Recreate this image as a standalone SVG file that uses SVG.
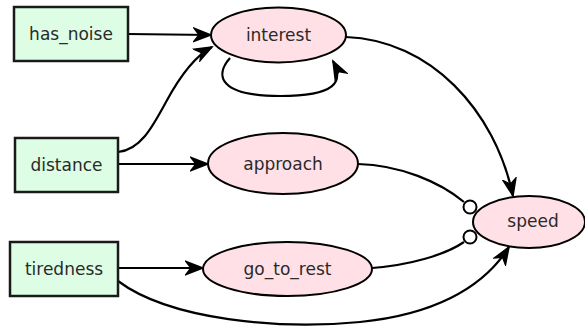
<svg xmlns="http://www.w3.org/2000/svg" width="585" height="328" viewBox="0 0 585 328">
<defs>
<style>
.box{fill:#ddfde5;stroke:#1a1a1a;stroke-width:2.5}
.ell{fill:#ffe0e6;stroke:#000;stroke-width:2}
.lbl{font-family:"DejaVu Sans",sans-serif;font-size:17px;fill:#2a2a2a;text-anchor:middle;dominant-baseline:central}
.edge{fill:none;stroke:#000;stroke-width:2.2}
.dot{fill:#fff;stroke:#000;stroke-width:2}
</style>
<marker id="arr" markerUnits="userSpaceOnUse" markerWidth="20" markerHeight="16" refX="18" refY="8" orient="auto" viewBox="0 0 20 16">
<path d="M1,1.5 L18,8 L1,14.5 L6,8 z" fill="#000" stroke="#000" stroke-width="1.5" stroke-linejoin="miter"/>
</marker>
</defs>
<g id="connectors">
<path class="edge" d="M128,34 L211,35" marker-end="url(#arr)"/>
<path class="edge" d="M118,152 C140,150 152,128 166,102 C180,76 195,56 212,47" marker-end="url(#arr)"/>
<path class="edge" d="M230,58 C214,76 220,96 280,96 C336,96 344,82 333,61" marker-end="url(#arr)"/>
<path class="edge" d="M118,164 L208,164" marker-end="url(#arr)"/>
<path class="edge" d="M118,268 L203,268" marker-end="url(#arr)"/>
<path class="edge" d="M346,37 C430,40 495,110 513,196" marker-end="url(#arr)"/>
<path class="edge" d="M118,281 C170,320 280,330 360,322 C430,315 482,290 509,247" marker-end="url(#arr)"/>
<path class="edge" d="M358,164 C400,165 440,182 464,202"/>
<path class="edge" d="M372,268 C410,265 445,255 464,242"/>
<circle class="dot" cx="470" cy="207" r="6.5"/>
<circle class="dot" cx="470" cy="237" r="6.5"/>
</g>
<g id="has_noise"><rect class="box" x="14" y="7" width="114" height="54"/><text class="lbl" x="71" y="34">has_noise</text></g>
<g id="distance"><rect class="box" x="15" y="138" width="103" height="54"/><text class="lbl" x="66.5" y="165">distance</text></g>
<g id="tiredness"><rect class="box" x="10" y="242" width="108" height="54"/><text class="lbl" x="64" y="269">tiredness</text></g>
<g id="interest"><ellipse class="ell" cx="278.5" cy="35" rx="67.5" ry="27.5"/><text class="lbl" x="278.5" y="35">interest</text></g>
<g id="approach"><ellipse class="ell" cx="283" cy="163.5" rx="75" ry="30.5"/><text class="lbl" x="283" y="163.5">approach</text></g>
<g id="go_to_rest"><ellipse class="ell" cx="287.5" cy="269" rx="84.5" ry="27"/><text class="lbl" x="287.5" y="269">go_to_rest</text></g>
<g id="speed"><ellipse class="ell" cx="529" cy="222" rx="56" ry="26"/><text class="lbl" x="533" y="221">speed</text></g>
</svg>
